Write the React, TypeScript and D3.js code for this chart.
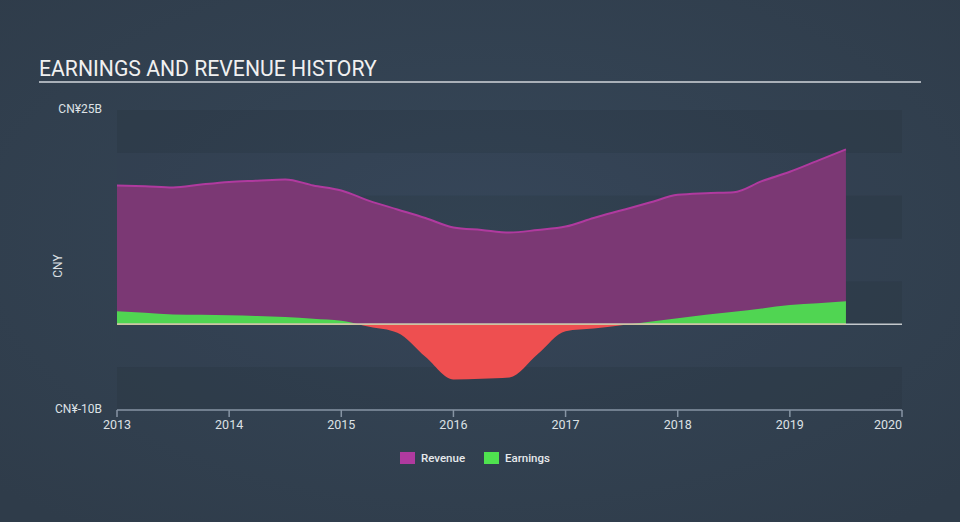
import React from "react";
import * as d3 from "d3";

const quarters = [
  2013.0, 2013.25, 2013.5, 2013.75, 2014.0, 2014.25, 2014.5, 2014.75,
  2015.0, 2015.25, 2015.5, 2015.75, 2016.0, 2016.25, 2016.5, 2016.75,
  2017.0, 2017.25, 2017.5, 2017.75, 2018.0, 2018.25, 2018.5, 2018.75,
  2019.0, 2019.25, 2019.5,
];
const revenue = [
  16.2, 16.1, 15.95, 16.3, 16.6, 16.75, 16.9, 16.2,
  15.6, 14.4, 13.4, 12.4, 11.3, 11.0, 10.7, 11.0,
  11.4, 12.4, 13.3, 14.2, 15.1, 15.3, 15.4, 16.7,
  17.8, 19.1, 20.4,
];
const earnings = [
  1.52, 1.35, 1.15, 1.1, 1.05, 0.97, 0.85, 0.65,
  0.4, -0.3, -1.0, -3.8, -6.45, -6.35, -6.2, -3.5,
  -0.8, -0.5, -0.1, 0.3, 0.7, 1.1, 1.45, 1.85,
  2.25, 2.45, 2.7,
];
const yearTicks = [2013, 2014, 2015, 2016, 2017, 2018, 2019, 2020];
const bandEdges = [25, 20, 15, 10, 5, 0, -5, -10];
const yLabels = [
  { v: 25, t: "CN¥25B" },
  { v: -10, t: "CN¥-10B" },
];
const legendItems = [
  { name: "Revenue", color: "#b03a9f" },
  { name: "Earnings", color: "#4fe24f" },
];

export default function App() {
  const W = 960, H = 522;
  const x = d3.scaleLinear().domain([2013, 2020]).range([117, 902]);
  const y = d3.scaleLinear().domain([-10, 25]).range([410, 110]);
  const curve = d3.curveMonotoneX;
  const revData = quarters.map((q, i) => [q, revenue[i]] as [number, number]);
  const earnData = quarters.map((q, i) => [q, earnings[i]] as [number, number]);

  const revArea = d3.area<[number, number]>()
    .x(d => x(d[0])).y0(y(0)).y1(d => y(d[1])).curve(curve)(revData) || "";
  const revLine = d3.line<[number, number]>()
    .x(d => x(d[0])).y(d => y(d[1])).curve(curve)(revData) || "";
  const earnArea = d3.area<[number, number]>()
    .x(d => x(d[0])).y0(y(0)).y1(d => y(d[1])).curve(curve)(earnData) || "";

  const bands = [] as { y0: number; y1: number; dark: boolean }[];
  for (let i = 0; i < bandEdges.length - 1; i++) {
    bands.push({ y0: y(bandEdges[i]), y1: y(bandEdges[i + 1]), dark: i % 2 === 0 });
  }
  const lastX = x(quarters[quarters.length - 1]);

  return (
    <svg width={W} height={H} style={{ display: "block", position: "absolute", left: 0, top: 0 }}
      fontFamily="Roboto, 'Noto Sans', sans-serif">
      <defs>
        <radialGradient id="bg" cx="50%" cy="45%" r="70%">
          <stop offset="0%" stopColor="#364759" />
          <stop offset="100%" stopColor="#2f3c4a" />
        </radialGradient>
        <clipPath id="above">
          <rect x={0} y={0} width={W} height={y(0)} />
        </clipPath>
        <clipPath id="below">
          <rect x={0} y={y(0)} width={W} height={H} />
        </clipPath>
      </defs>
      <rect x={0} y={0} width={W} height={H} fill="url(#bg)" />
      <text x={39} y={76} fontSize={21.2} fill="#f0f0f0">EARNINGS AND REVENUE HISTORY</text>
      <rect x={39} y={81} width={882} height={2} fill="#a9b0b8" />

      {bands.map((b, i) => (
        <rect key={i} x={117} y={b.y0} width={785} height={b.y1 - b.y0}
          fill={b.dark ? "rgba(25,35,45,0.14)" : "rgba(60,75,95,0.03)"} />
      ))}

      <path d={revArea} fill="#7b3874" />
      <path d={revLine} fill="none" stroke="#b03a9f" strokeWidth={2} />

      <path d={earnArea} fill="#50d552" clipPath="url(#above)" />
      <path d={earnArea} fill="#ee4f50" clipPath="url(#below)" />

      <line x1={117} x2={902} y1={y(0)} y2={y(0)} stroke="#c4c8cc" strokeWidth={1.5} />
      <line x1={117} x2={lastX} y1={y(0)} y2={y(0)} stroke="#cfc3a0" strokeWidth={1.5} />

      <line x1={117} x2={902} y1={410} y2={410} stroke="#8795a4" strokeWidth={1.5} />
      {yearTicks.map((t, i) => (
        <g key={t}>
          <line x1={x(t)} x2={x(t)} y1={410} y2={417} stroke="#8795a4" strokeWidth={1.5} />
          <text x={x(t)} y={429} fontSize={12.5}
            textAnchor={i === yearTicks.length - 1 ? "end" : "middle"} fill="#dde1e5">{t}</text>
        </g>
      ))}

      {yLabels.map(l => (
        <text key={l.t} x={102} y={y(l.v) + 3} fontSize={12} textAnchor="end" fill="#dde1e5">{l.t}</text>
      ))}
      <text transform="translate(62,266) rotate(-90)" fontSize={12} textAnchor="middle" fill="#dde1e5">CNY</text>

      {legendItems.map((it, i) => {
        const lx = 400 + i * 84;
        return (
          <g key={it.name}>
            <rect x={lx} y={452} width={15} height={12} fill={it.color} />
            <text x={lx + 21} y={462} fontSize={11.5} fontWeight={500} fill="#e6e9ec">{it.name}</text>
          </g>
        );
      })}
    </svg>
  );
}
